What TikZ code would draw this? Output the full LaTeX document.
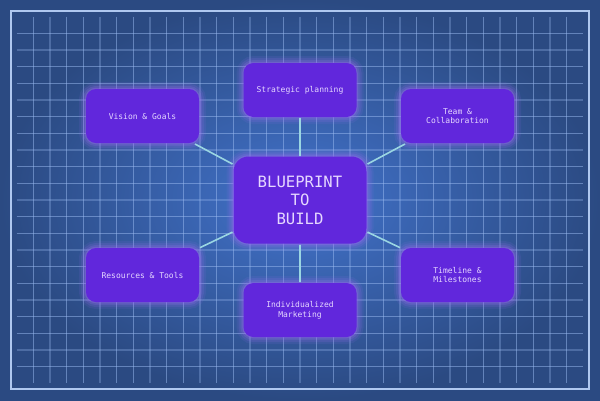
\documentclass[tikz,border=0pt]{standalone}
\usepackage{fontspec}
\setmonofont{DejaVu Sans Mono}
\usetikzlibrary{positioning}
\definecolor{bgdark}{HTML}{2B4A82}
\definecolor{bglight}{HTML}{4273CC}
\definecolor{gridblue}{HTML}{9CBCF2}
\definecolor{frameblue}{HTML}{AFC8F0}
\definecolor{topicviolet}{HTML}{6127DC}
\definecolor{glowviolet}{HTML}{9A6CF0}
\definecolor{textlilac}{HTML}{E6D8FF}
\definecolor{linkcyan}{HTML}{9AD6E2}

\tikzset{
  glow/.style={
    preaction={draw=glowviolet, line width=14pt, draw opacity=0.1},
    preaction={draw=glowviolet, line width=10pt, draw opacity=0.15},
    preaction={draw=glowviolet, line width=6pt, draw opacity=0.2},
    preaction={draw=glowviolet, line width=2.5pt, draw opacity=0.3}},
  topic/.style={rectangle, rounded corners=10pt, fill=topicviolet, minimum width=113pt, minimum height=54pt,
    align=center, text=textlilac, font=\ttfamily\fontsize{8}{9.7}\selectfont,
    glow, outer sep=1pt},
  hub/.style={topic, minimum width=133pt, minimum height=87pt, rounded corners=15pt,
    font=\ttfamily\fontsize{15.6}{18.5}\selectfont},
  link/.style={draw=linkcyan, line width=1.6pt},
  minorline/.style={gridblue, line width=0.8pt, opacity=0.5},
  majorline/.style={gridblue, line width=2pt, opacity=0.3}
}

\begin{document}
\begin{tikzpicture}[x=1pt, y=-1pt]
  \useasboundingbox (0,0) rectangle (600,400);
  % backdrop
  \shade[inner color=bglight, outer color=bgdark] (0,0) rectangle (600,400);

  % grid
  \foreach \i in {2,...,34} {
    \pgfmathtruncatemacro{\m}{mod(\i,3)}
    \ifnum\m=0
      \draw[majorline] (\i*16.667, 16.667) -- (\i*16.667, 383.33);
    \else
      \draw[minorline] (\i*16.667, 16.667) -- (\i*16.667, 383.33);
    \fi
  }
  \foreach \j in {2,...,22} {
    \pgfmathtruncatemacro{\m}{mod(\j,3)}
    \ifnum\m=0
      \draw[majorline] (16.667, \j*16.667) -- (583.33, \j*16.667);
    \else
      \draw[minorline] (16.667, \j*16.667) -- (583.33, \j*16.667);
    \fi
  }
  \draw[frameblue, line width=2pt] (11,11) rectangle (589,389);

  % nodes
  \node[hub] (blueprint) at (300,200) {BLUEPRINT\\TO\\BUILD};

  \node[topic] (strategy) at (300,90) {Strategic planning};
  \node[topic] (vision) at (142.5,116) {Vision \& Goals};
  \node[topic] (team) at (457.5,116) {Team \&\\Collaboration};
  \node[topic] (resources) at (142.5,275) {Resources \& Tools};
  \node[topic] (timeline) at (457.5,275) {Timeline \&\\Milestones};
  \node[topic] (marketing) at (300,310) {Individualized\\Marketing};

  % links
  \foreach \t in {strategy, vision, team, resources, timeline, marketing}
    \draw[link] (blueprint) -- (\t);
\end{tikzpicture}
\end{document}
